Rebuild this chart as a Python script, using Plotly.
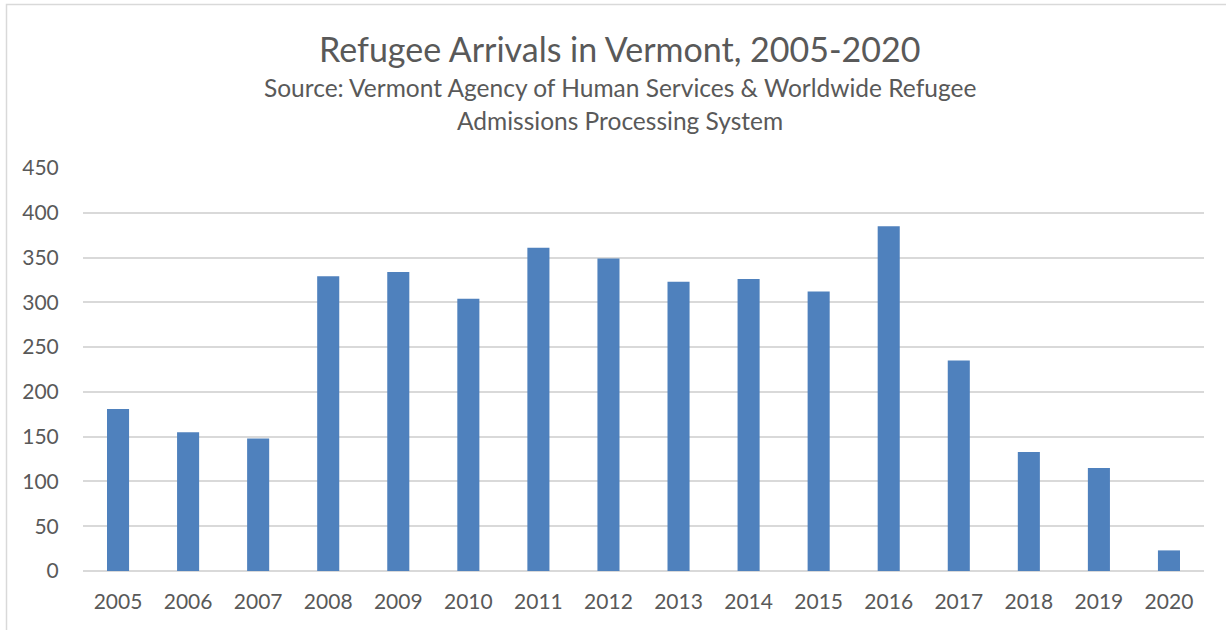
import plotly.graph_objects as go

years = ["2005", "2006", "2007", "2008", "2009", "2010", "2011", "2012",
         "2013", "2014", "2015", "2016", "2017", "2018", "2019", "2020"]
arrivals = [181, 155, 148, 329, 334, 304, 361, 349, 323, 326, 312, 385, 235, 133, 115, 23]
y_ticks = [0, 50, 100, 150, 200, 250, 300, 350, 400, 450]

title_text = "Refugee Arrivals in Vermont, 2005-2020"
subtitle_lines = ["Source: Vermont Agency of Human Services & Worldwide Refugee",
                  "Admissions Processing System"]

FONT = "Lato, 'Open Sans', sans-serif"
TXT = "#595959"
GRID = "#d9d9d9"

W, H = 1226, 630
L, R, T, B = 83, 22, 168, 59
pw, ph = W - L - R, H - T - B

def px_x(x):
    return (x - L) / pw

def px_y(y):
    return (H - B - y) / ph

fig = go.Figure(go.Bar(x=years, y=arrivals, marker=dict(color="#4f81bd", line=dict(width=0)),
                       width=0.315))

fig.update_layout(
    width=W, height=H,
    margin=dict(l=L, r=R, t=T, b=B),
    paper_bgcolor="white", plot_bgcolor="white",
    showlegend=False,
    font=dict(family=FONT, color=TXT, size=21),
    xaxis=dict(type="category", showgrid=False, ticks="outside", ticklen=12,
               tickcolor="rgba(0,0,0,0)", tickfont=dict(size=21, color=TXT),
               showline=False, zeroline=False),
    yaxis=dict(range=[0, 450], tickvals=y_ticks, showgrid=True, gridcolor=GRID,
               gridwidth=1.5, zeroline=True, zerolinecolor=GRID, zerolinewidth=1.5,
               ticks="outside", ticklen=19, tickcolor="rgba(0,0,0,0)",
               tickfont=dict(size=21, color=TXT), showline=False),
    shapes=[dict(type="rect", xref="paper", yref="paper",
                 x0=px_x(6.5), x1=px_x(1240), y0=px_y(700), y1=px_y(4.5),
                 line=dict(color=GRID, width=1.5), fillcolor="rgba(0,0,0,0)", layer="below")],
    annotations=[
        dict(text=title_text, xref="paper", yref="paper", x=px_x(620), y=px_y(48),
             showarrow=False, xanchor="center", yanchor="middle",
             font=dict(size=34, color=TXT, family=FONT)),
        dict(text=subtitle_lines[0], xref="paper", yref="paper", x=px_x(620), y=px_y(88),
             showarrow=False, xanchor="center", yanchor="middle",
             font=dict(size=24.5, color=TXT, family=FONT)),
        dict(text=subtitle_lines[1], xref="paper", yref="paper", x=px_x(620), y=px_y(120),
             showarrow=False, xanchor="center", yanchor="middle",
             font=dict(size=24.5, color=TXT, family=FONT)),
    ],
)

fig.write_html("out.html")
